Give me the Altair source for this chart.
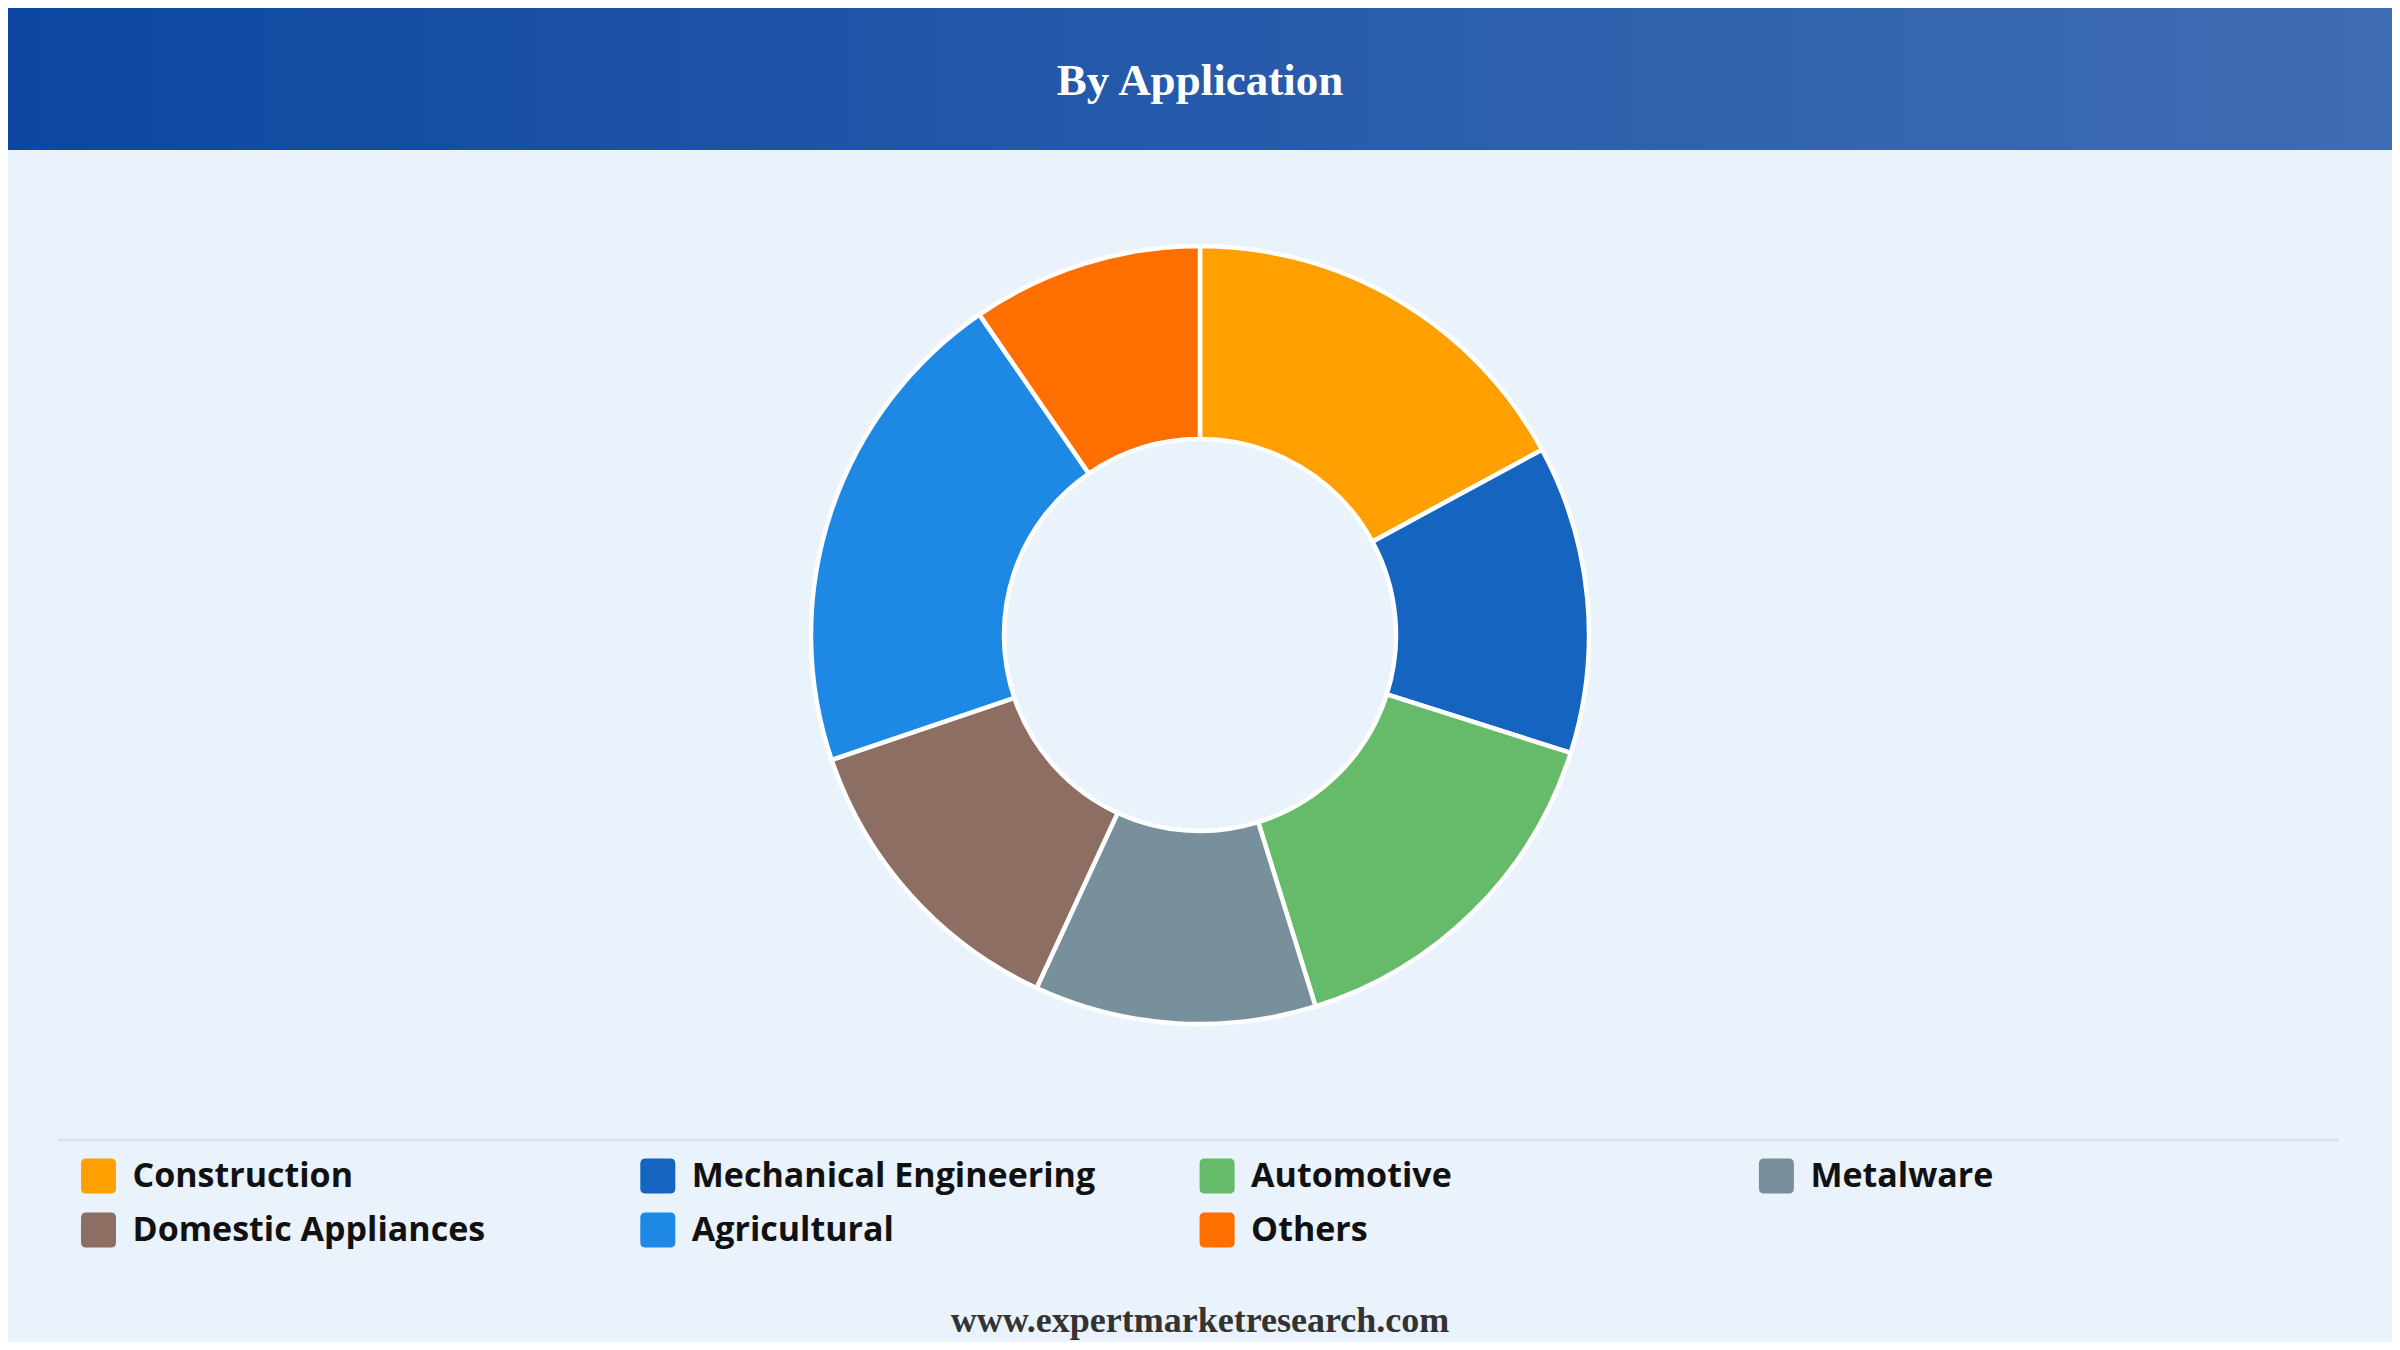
import altair as alt
import pandas as pd

# ---- data ----
categories = ["Construction", "Mechanical Engineering", "Automotive", "Metalware",
              "Domestic Appliances", "Agricultural", "Others"]
shares = [17.1, 12.8, 15.3, 11.7, 12.9, 20.6, 9.6]
colors = ["#FFA000", "#1565C0", "#66BB6A", "#78909C", "#8D6E63", "#1E88E5", "#FF6F00"]
legend_cols = [0, 1, 2, 3, 0, 1, 2]
legend_rows = [0, 0, 0, 0, 1, 1, 1]
title_text = ["By Application"]
footer_text = ["www.expertmarketresearch.com"]

W, H = 2384, 1334
BG = "#EAF2FC"

df = pd.DataFrame({
    "category": categories,
    "share": shares,
    "idx": list(range(len(categories))),
    "col": legend_cols,
    "row": legend_rows,
})

color_scale = alt.Scale(domain=categories, range=colors)

# header band with gradient
header = alt.Chart(pd.DataFrame({"t": title_text})).mark_rect(
    color=alt.Gradient(
        gradient="linear",
        stops=[alt.GradientStop(color="#0D47A1", offset=0),
               alt.GradientStop(color="#3F6DB3", offset=1)],
        x1=0, x2=1, y1=0, y2=0,
    )
).encode(x=alt.value(0), x2=alt.value(W), y=alt.value(0), y2=alt.value(142))

title = alt.Chart(pd.DataFrame({"t": title_text})).mark_text(
    font="Liberation Serif", fontWeight="bold", fontSize=45, color="white",
    align="center", baseline="alphabetic",
).encode(text="t:N", x=alt.value(1192), y=alt.value(87))

# donut
donut = alt.Chart(df).mark_arc(
    innerRadius=196, outerRadius=389, stroke="white", strokeWidth=4.5,
).encode(
    theta=alt.Theta("share:Q", stack=True),
    color=alt.Color("category:N", scale=color_scale, legend=None),
    order=alt.Order("idx:Q"),
    x=alt.value(1192), y=alt.value(627),
)

# separator
sep = alt.Chart(pd.DataFrame({"t": title_text})).mark_rule(
    color="#DCE2E9", strokeWidth=3
).encode(x=alt.value(50), x2=alt.value(2331), y=alt.value(1132))

# custom legend
xs = alt.X("col:Q", scale=alt.Scale(domain=[0, 3], range=[90.5, 1768.4]), axis=None)
ys = alt.Y("row:Q", scale=alt.Scale(domain=[0, 1], range=[1168, 1222]), axis=None)
rounded = ("M -0.7 -1 L 0.7 -1 Q 1 -1 1 -0.7 L 1 0.7 Q 1 1 0.7 1 L -0.7 1 "
           "Q -1 1 -1 0.7 L -1 -0.7 Q -1 -1 -0.7 -1 Z")
swatches = alt.Chart(df).mark_point(
    shape=rounded, filled=True, opacity=1, size=1225, strokeWidth=0,
).encode(
    x=xs, y=ys,
    color=alt.Color("category:N", scale=color_scale, legend=None),
)
labels = alt.Chart(df).mark_text(
    font="Open Sans", fontWeight="bold", fontSize=34, color="#111111",
    align="left", baseline="middle", dx=34, dy=1,
).encode(x=xs, y=ys, text="category:N")

footer = alt.Chart(pd.DataFrame({"t": footer_text})).mark_text(
    font="Liberation Serif", fontWeight="bold", fontSize=36, color="#333333",
    align="center", baseline="alphabetic",
).encode(text="t:N", x=alt.value(1192), y=alt.value(1324))

chart = alt.layer(header, title, donut, sep, swatches, labels, footer).properties(
    width=W, height=H, padding=0, background=BG,
).configure_view(stroke=None, fill=BG)

chart.save("out.html", embed_options={"renderer": "svg", "actions": False})
